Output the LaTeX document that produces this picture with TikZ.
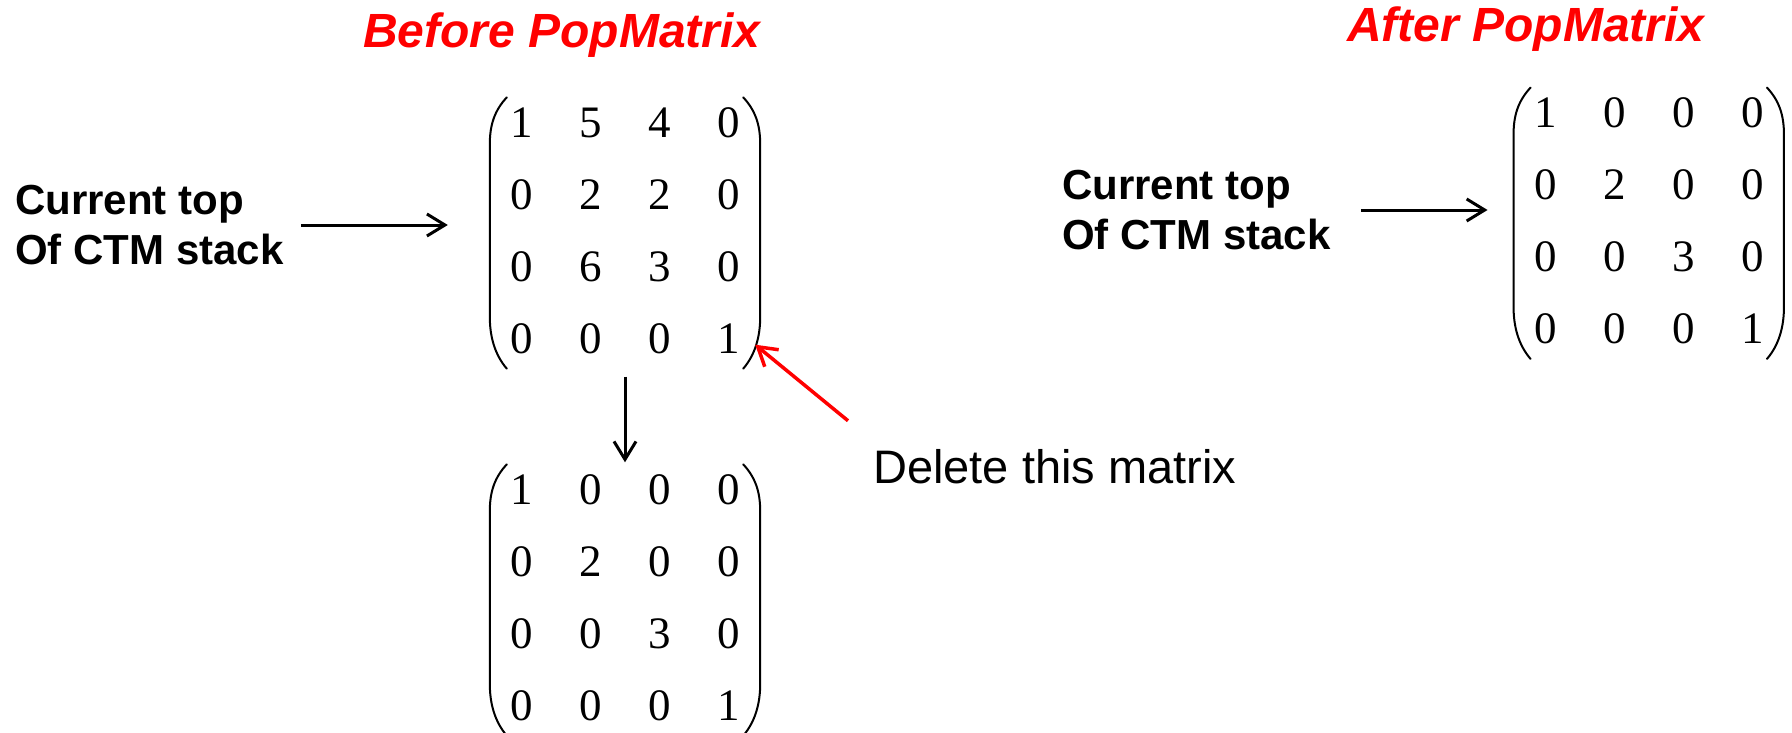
\documentclass[tikz,border=0pt]{standalone}
\usepackage{fontspec}
\setmainfont{Liberation Serif}
\newfontfamily\labelfont{Liberation Sans}
\usetikzlibrary{matrix,calc,arrows.meta}

% round brackets drawn around a 4x4 matrix node
\newcommand\bracketpair[1]{%
  \draw[paren] ($(#1.north west)+(20,11)$)
      .. controls ($(#1.north west)+(8,24)$) and ($(#1.north west)+(3,38)$) .. ($(#1.north west)+(3,58)$)
      -- ($(#1.south west)+(3,-58)$)
      .. controls ($(#1.south west)+(3,-38)$) and ($(#1.south west)+(8,-20)$) .. ($(#1.south west)+(20,-6)$);
  \draw[paren] ($(#1.north east)+(-20,11)$)
      .. controls ($(#1.north east)+(-8,24)$) and ($(#1.north east)+(-3,38)$) .. ($(#1.north east)+(-3,58)$)
      -- ($(#1.south east)+(-3,-58)$)
      .. controls ($(#1.south east)+(-3,-38)$) and ($(#1.south east)+(-8,-20)$) .. ($(#1.south east)+(-20,-6)$);
}

\begin{document}
\begin{tikzpicture}[x=1pt,y=-1pt,
  mat/.style={matrix of nodes, inner sep=0pt,
    nodes={inner sep=0pt, minimum width=69pt, minimum height=72pt, anchor=center,
           font=\fontsize{45}{54}\selectfont}},
  paren/.style={line width=2pt, line cap=round},
  title/.style={inner sep=0pt, anchor=base west, text=red,
    font=\labelfont\bfseries\itshape\fontsize{48}{58}\selectfont},
  toplabel/.style={inner sep=0pt, anchor=west, align=left,
    font=\labelfont\bfseries\fontsize{42}{50}\selectfont},
  note/.style={inner sep=0pt, anchor=base west,
    font=\labelfont\fontsize{47}{56}\selectfont},
  arr/.style={line width=3pt, -{Straight Barb[length=18pt,width=22pt,line width=3pt]}},
  redarr/.style={line width=3.5pt, red, -{Straight Barb[length=18pt,width=22pt,line width=3.5pt]}}
]
\useasboundingbox (0,0) rectangle (1792,733);

% titles
\node[title] (before) at (363,48) {Before PopMatrix};
\node[title] (after) at (1347,42) {After PopMatrix};

% stack before the pop
\matrix (m1) [mat] at (625,230.5) {
  1 & 5 & 4 & 0 \\
  0 & 2 & 2 & 0 \\
  0 & 6 & 3 & 0 \\
  0 & 0 & 0 & 1 \\
};
\bracketpair{m1}

\matrix (m2) [mat] at (625,597.5) {
  1 & 0 & 0 & 0 \\
  0 & 2 & 0 & 0 \\
  0 & 0 & 3 & 0 \\
  0 & 0 & 0 & 1 \\
};
\bracketpair{m2}

% stack after the pop
\matrix (m3) [mat] at (1648.75,220.75) {
  1 & 0 & 0 & 0 \\
  0 & 2 & 0 & 0 \\
  0 & 0 & 3 & 0 \\
  0 & 0 & 0 & 1 \\
};
\bracketpair{m3}

% labels
\node[toplabel] (lab1) at (15,225) {Current top\\Of CTM stack};
\node[toplabel] (lab2) at (1062,210) {Current top\\Of CTM stack};
\node[note] (del) at (873,483) {Delete this matrix};

% connectors
\draw[arr] ([xshift=17pt]lab1.east) -- ([xshift=-39pt]m1.west |- lab1.east);
\draw[arr] ([xshift=30pt]lab2.east) -- ([xshift=-23pt]m3.west |- lab2.east);
\draw[arr] ([yshift=-2pt]m1.south) -- ([yshift=-9pt]m2.north);
\draw[redarr] ($(del.north west)+(-25,-28)$) -- ($(m1.south east)+(-8,-30)$);
\end{tikzpicture}
\end{document}
